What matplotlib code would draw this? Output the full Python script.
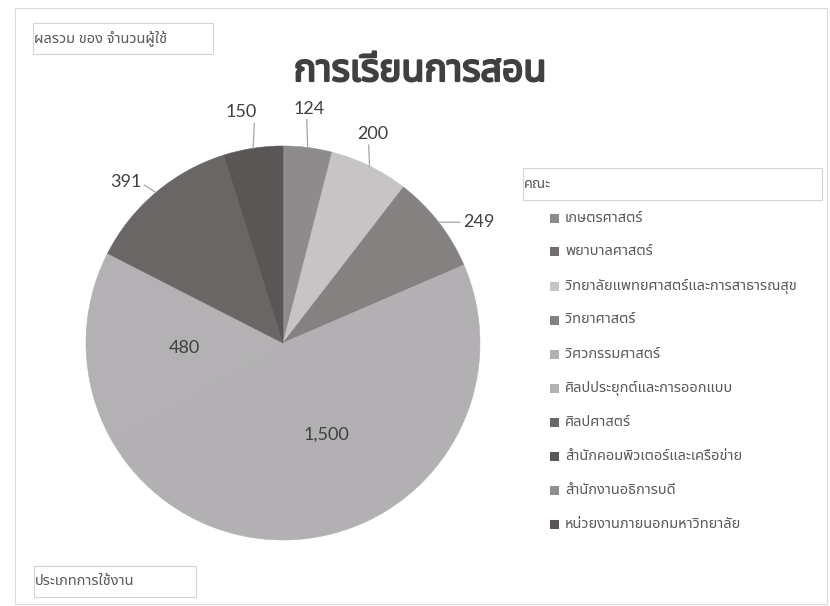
import numpy as np
import matplotlib
matplotlib.use("Agg")
import matplotlib.pyplot as plt
import matplotlib.patheffects as pe
from matplotlib import font_manager
from matplotlib.ft2font import FT2Font
from matplotlib.patches import Rectangle

# ---------------------------------------------------------------
# data
# ---------------------------------------------------------------
TITLE = "การเรียนการสอน"
VALUE_FIELD = "ผลรวม ของ จำนวนผู้ใช้"
LEGEND_FIELD = "คณะ"
AXIS_FIELD = "ประเภทการใช้งาน"

CATEGORIES = [
    "เกษตรศาสตร์",
    "พยาบาลศาสตร์",
    "วิทยาลัยแพทยศาสตร์และการสาธารณสุข",
    "วิทยาศาสตร์",
    "วิศวกรรมศาสตร์",
    "ศิลปประยุกต์และการออกแบบ",
    "ศิลปศาสตร์",
    "สำนักคอมพิวเตอร์และเครือข่าย",
    "สำนักงานอธิการบดี",
    "หน่วยงานภายนอกมหาวิทยาลัย",
]
USERS = [124, 0, 200, 249, 1500, 480, 391, 0, 0, 150]

COLORS = ["#8d8b8b", "#726e6e", "#c6c4c5", "#858181", "#b2b0b2",
          "#b3b1b3", "#6a6666", "#5c5858", "#918f8f", "#5b5656"]

# ---------------------------------------------------------------
# layout (pixels, top-left origin)
# ---------------------------------------------------------------
W, H = 830, 606
CX, CY, R = 283, 343, 197
PAD = 1.3

# label placement: offset of text centre from slice edge (px), line attach point
LABEL_STYLE = {
    0: ((1, 39), (0.43, 0.0)),
    2: ((3, 32), (0.37, 0.0)),
    3: ((40, 0), (0.0, 0.5)),
    6: ((-30, 11), (1.0, 0.4)),
    9: ((-12, 36), (0.93, 0.0)),
}
INSIDE = {4, 5}


def find_thai_font():
    preferred = ["Noto Sans Thai", "Noto Sans Thai UI", "Tahoma", "Leelawadee UI",
                 "Sarabun", "Loma", "Garuda", "Waree", "Kinnari", "Norasi",
                 "Umpush", "Laksaman", "FreeSans"]
    found = []
    for fe in font_manager.fontManager.ttflist:
        try:
            if 0x0E01 in FT2Font(fe.fname).get_charmap():
                found.append(fe.name)
        except Exception:
            pass
    for name in preferred:
        if name in found:
            return name
    return found[0] if found else "DejaVu Sans"


THAI = find_thai_font()
THAI_FAM = [THAI, "DejaVu Sans"]


def fx(x):
    return x / W


def fy(y):
    return 1 - y / H


def field_box(fig, x0, y0, x1, y1, text):
    fig.patches.append(Rectangle((fx(x0), fy(y1)), (x1 - x0) / W, (y1 - y0) / H,
                                 transform=fig.transFigure, facecolor="white",
                                 edgecolor="#d4d4d4", linewidth=0.8))
    fig.text(fx(x0 + 1), fy((y0 + y1) / 2), text, ha="left", va="center",
             fontsize=10.5, color="#595959", family=THAI_FAM)


fig = plt.figure(figsize=(W / 100, H / 100), dpi=100)
fig.patch.set_facecolor("white")

# outer chart frame
fig.patches.append(Rectangle((fx(15), fy(604)), 812 / W, 596 / H,
                             transform=fig.transFigure, facecolor="none",
                             edgecolor="#dcdcdc", linewidth=0.8))

# pie
size = 2 * R * PAD
ax = fig.add_axes([fx(CX - R * PAD), fy(CY + R * PAD), size / W, size / H])
wedges, _ = ax.pie(USERS, colors=COLORS, startangle=90, counterclock=False,
                   radius=1, wedgeprops=dict(linewidth=0))
for w in wedges:
    # hide antialiasing seams between slices
    w.set_edgecolor(w.get_facecolor())
    w.set_linewidth(0.4)
ax.set_xlim(-PAD, PAD)
ax.set_ylim(-PAD, PAD)
ax.set_aspect("equal")
ax.axis("off")

for i, w in enumerate(wedges):
    v = USERS[i]
    if v == 0:
        continue
    mid = np.deg2rad((w.theta1 + w.theta2) / 2)
    ex, ey = np.cos(mid), np.sin(mid)
    txt = f"{v:,}"
    if i in INSIDE:
        ax.annotate(txt, xy=(0.5 * ex, 0.5 * ey), xytext=(0, -3),
                    textcoords="offset pixels", ha="center", va="center",
                    fontsize=13, color="#404040", family="Lato")
    else:
        off, rp = LABEL_STYLE[i]
        ax.annotate(txt, xy=(ex, ey), xytext=off, textcoords="offset pixels",
                    ha="center", va="center", fontsize=13, color="#404040",
                    family="Lato",
                    arrowprops=dict(arrowstyle="-", color="#a6a6a6", lw=0.9,
                                    relpos=rp, shrinkA=0, shrinkB=0))

# title
fig.text(fx(420), fy(71), TITLE, ha="center", va="center", fontsize=27,
         fontweight="bold", color="#404040", family=THAI_FAM,
         path_effects=[pe.withStroke(linewidth=1.6, foreground="#404040")])

# field buttons
field_box(fig, 33, 23, 213, 54, VALUE_FIELD)
field_box(fig, 34, 566, 196, 597, AXIS_FIELD)
field_box(fig, 523, 168, 822, 200, LEGEND_FIELD)

# legend
for i, (name, col) in enumerate(zip(CATEGORIES, COLORS)):
    y = 218 + i * 34
    fig.patches.append(Rectangle((fx(550), fy(y + 4.5)), 9 / W, 9 / H,
                                 transform=fig.transFigure, facecolor=col,
                                 edgecolor="none"))
    fig.text(fx(565), fy(y), name, ha="left", va="center", fontsize=10.5,
             color="#595959", family=THAI_FAM)

fig.savefig("out.png", dpi=100)
